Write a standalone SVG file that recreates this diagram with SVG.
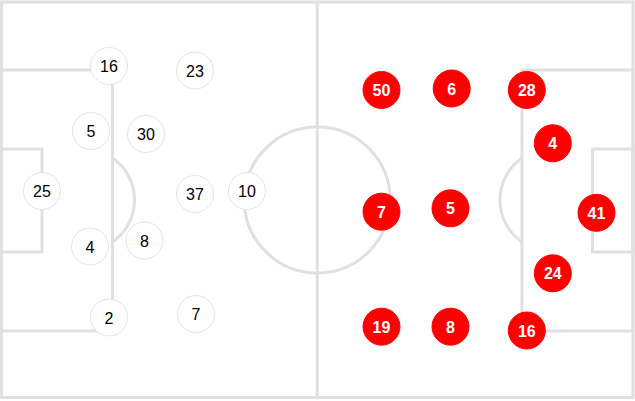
<svg xmlns="http://www.w3.org/2000/svg" width="635" height="401" viewBox="0 0 635 401">
<style>
.ln{fill:none;stroke:#e0e0e0;stroke-width:3}
.hw circle{fill:#ffffff;stroke:#e4e4e4;stroke-width:1}
.hw text{fill:#000000;font-family:"Liberation Sans",Arial,sans-serif;font-size:16px;text-anchor:middle}
.aw circle{fill:#ff0000;stroke:#ff0000;stroke-width:1}
.aw text{fill:#ffffff;font-family:"Liberation Sans",Arial,sans-serif;font-size:16px;font-weight:bold;text-anchor:middle}
</style>
<rect x="0" y="0" width="635" height="401" fill="#ffffff"/>
<g id="pitch">
<rect class="ln" x="1.5" y="2" width="631.5" height="395.5"/>
<line class="ln" x1="317.25" y1="2" x2="317.25" y2="397.5"/>
<circle class="ln" cx="317.25" cy="200" r="73"/>
<rect class="ln" x="1.5" y="70" width="111" height="261"/>
<rect class="ln" x="1.5" y="149" width="40.5" height="103"/>
<path class="ln" d="M112.5,158 A51,51 0 0 1 112.5,242"/>
<rect class="ln" x="522" y="70" width="111" height="261"/>
<rect class="ln" x="592.5" y="149" width="40.5" height="103"/>
<path class="ln" d="M522,158 A51,51 0 0 0 522,242"/>
</g>
<g id="home">
<g id="h16" class="hw"><circle cx="109" cy="66" r="18.5"/><text x="109" y="72">16</text></g>
<g id="h23" class="hw"><circle cx="195" cy="70.5" r="18.5"/><text x="195" y="76.5">23</text></g>
<g id="h5" class="hw"><circle cx="91" cy="131" r="18.5"/><text x="91" y="137">5</text></g>
<g id="h30" class="hw"><circle cx="146" cy="134" r="18.5"/><text x="146" y="140">30</text></g>
<g id="h25" class="hw"><circle cx="42" cy="191" r="18.5"/><text x="42" y="197">25</text></g>
<g id="h37" class="hw"><circle cx="195" cy="194" r="18.5"/><text x="195" y="200">37</text></g>
<g id="h10" class="hw"><circle cx="247" cy="191" r="18.5"/><text x="247" y="197">10</text></g>
<g id="h4" class="hw"><circle cx="90" cy="246.5" r="18.5"/><text x="90" y="252.5">4</text></g>
<g id="h8" class="hw"><circle cx="144.5" cy="240.5" r="18.5"/><text x="144.5" y="246.5">8</text></g>
<g id="h2" class="hw"><circle cx="109" cy="317.5" r="18.5"/><text x="109" y="323.5">2</text></g>
<g id="h7" class="hw"><circle cx="196" cy="314" r="18.5"/><text x="196" y="320">7</text></g>
</g>
<g id="away">
<g id="a50" class="aw"><circle cx="381.5" cy="90" r="18.5"/><text x="381.5" y="96">50</text></g>
<g id="a6" class="aw"><circle cx="451.7" cy="88.5" r="18.5"/><text x="451.7" y="94.5">6</text></g>
<g id="a28" class="aw"><circle cx="526.8" cy="90" r="18.5"/><text x="526.8" y="96">28</text></g>
<g id="a4" class="aw"><circle cx="552.8" cy="143.3" r="18.5"/><text x="552.8" y="149.3">4</text></g>
<g id="a7" class="aw"><circle cx="381.5" cy="211.7" r="18.5"/><text x="381.5" y="217.7">7</text></g>
<g id="a5" class="aw"><circle cx="450.5" cy="208.3" r="18.5"/><text x="450.5" y="214.3">5</text></g>
<g id="a41" class="aw"><circle cx="596.5" cy="212.8" r="18.5"/><text x="596.5" y="218.8">41</text></g>
<g id="a24" class="aw"><circle cx="552.8" cy="273.3" r="18.5"/><text x="552.8" y="279.3">24</text></g>
<g id="a19" class="aw"><circle cx="381.5" cy="326.7" r="18.5"/><text x="381.5" y="332.7">19</text></g>
<g id="a8" class="aw"><circle cx="450.5" cy="326.7" r="18.5"/><text x="450.5" y="332.7">8</text></g>
<g id="a16" class="aw"><circle cx="526.8" cy="330.5" r="18.5"/><text x="526.8" y="336.5">16</text></g>
</g>
</svg>
